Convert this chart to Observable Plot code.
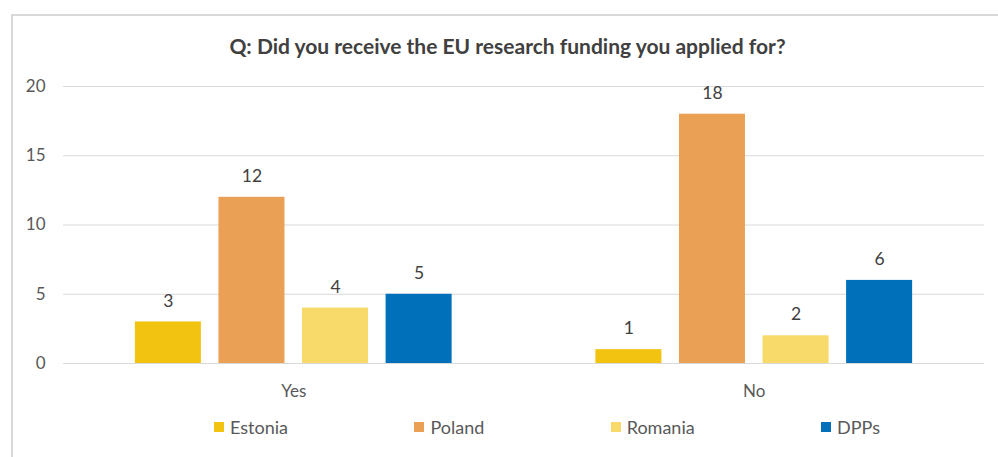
<!DOCTYPE html>
<html>
<head>
<meta charset="utf-8">
<script src="https://cdn.jsdelivr.net/npm/d3@7"></script>
<script src="https://cdn.jsdelivr.net/npm/@observablehq/plot@0.6"></script>
<style>
  html, body { margin: 0; padding: 0; background: #fff; }
  body { width: 998px; height: 457px; position: relative; overflow: hidden; font-family: Lato, "Liberation Sans", sans-serif; }
  #frame { position: absolute; left: 11px; top: 14px; width: 1000px; height: 460px; border-top: 2px solid #d9d9d9; border-left: 2px solid #d9d9d9; box-sizing: border-box; }
  #title { position: absolute; left: 11px; width: 993px; top: 33px; text-align: center; font-weight: bold; font-size: 21px; color: #404040; line-height: 26px; }
  #chart { position: absolute; left: 0; top: 60px; }
  #legend { position: absolute; left: 214px; width: 666px; top: 416px; display: flex; justify-content: space-between; align-items: center; font-size: 18px; color: #595959; line-height: 22px; }
  #legend .item { display: flex; align-items: center; }
  #legend .sw { width: 10px; height: 10px; margin-right: 6px; }
</style>
</head>
<body>
<div id="frame"></div>
<div id="title">Q: Did you receive the EU research funding you applied for?</div>
<div id="chart"></div>
<div id="legend"></div>
<script>
const groups = ["Yes", "No"];
const series = ["Estonia", "Poland", "Romania", "DPPs"];
const yesValues = [3, 12, 4, 5];
const noValues = [1, 18, 2, 6];
const yTicks = [0, 5, 10, 15, 20];
const seriesColors = ["#F3C311", "#EBA155", "#F7DA6A", "#0070BB"];

const valuesByGroup = {Yes: yesValues, No: noValues};
const data = [];
for (const g of groups) {
  series.forEach((s, i) => data.push({group: g, series: s, value: valuesByGroup[g][i]}));
}

const plot = Plot.plot({
  width: 998,
  height: 345,
  marginTop: 26,
  marginBottom: 42,
  marginLeft: 63,
  marginRight: 14,
  style: {fontFamily: 'Lato, "Liberation Sans", sans-serif', fontSize: "17px", color: "#595959", background: "transparent"},
  fx: {domain: groups, padding: 0, round: false, axis: "bottom", label: null, tickSize: 0, tickPadding: 21},
  x: {domain: series, axis: null, round: false, paddingInner: 0.21, paddingOuter: 0.86},
  y: {domain: [0, 20], ticks: yTicks, label: null, tickSize: 0, tickPadding: 18},
  color: {domain: series, range: seriesColors},
  marks: [
    Plot.ruleY(yTicks, {stroke: "#d9d9d9", strokeWidth: 1.2, strokeOpacity: 1}),
    Plot.barY(data, {fx: "group", x: "series", y: "value", fill: "series"}),
    Plot.text(data, {fx: "group", x: "series", y: "value", text: d => String(d.value), dy: -21, fill: "#404040", fontSize: 17.5})
  ]
});
document.getElementById("chart").appendChild(plot);

const legend = document.getElementById("legend");
const color = plot.scale("color");
series.forEach((s) => {
  const item = document.createElement("div");
  item.className = "item";
  const sw = document.createElement("span");
  sw.className = "sw";
  sw.style.background = color.apply(s);
  const label = document.createElement("span");
  label.textContent = s;
  item.appendChild(sw);
  item.appendChild(label);
  legend.appendChild(item);
});
</script>
</body>
</html>
